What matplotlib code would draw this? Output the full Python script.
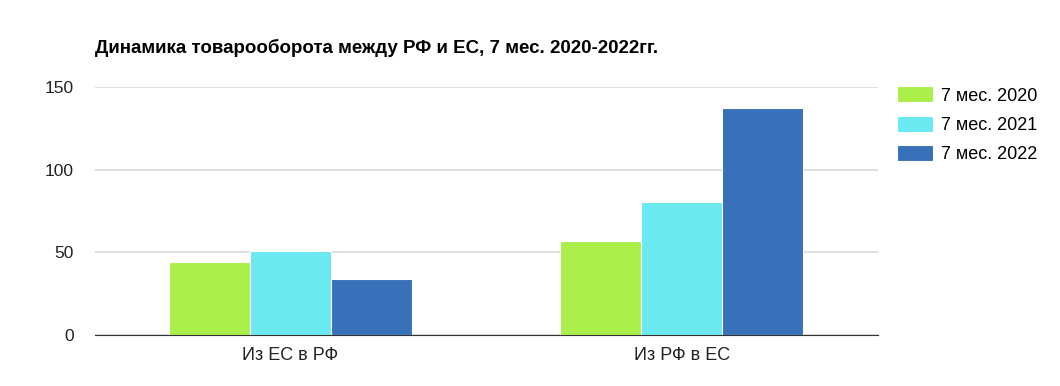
import matplotlib
matplotlib.use("Agg")
import matplotlib.pyplot as plt
import numpy as np

plt.rcParams["font.family"] = ["Liberation Sans", "DejaVu Sans"]

categories = ["Из ЕС в РФ", "Из РФ в ЕС"]
series_names = ["7 мес. 2020", "7 мес. 2021", "7 мес. 2022"]
vals_2020 = [44.1, 56.8]
vals_2021 = [50.8, 80.2]
vals_2022 = [33.7, 137.1]
colors = ["#abef4b", "#6be9f0", "#3870ba"]

fig = plt.figure(figsize=(10.6, 3.86), dpi=100)
ax = fig.add_axes([94.5 / 1060, 51 / 386, 783 / 1060, 248 / 386])

x = np.arange(len(categories))
w = 0.207
for i, (vals, name) in enumerate(zip([vals_2020, vals_2021, vals_2022], series_names)):
    ax.bar(x + (i - 1) * w, vals, w, color=colors[i], label=name,
           edgecolor="white", linewidth=0.8, zorder=3)

ax.set_xlim(-0.5, 1.5)
ax.set_ylim(0, 150)
ax.set_yticks([0, 50, 100, 150])
ax.set_xticks(x)
ax.set_xticklabels(categories)
ax.tick_params(axis="both", length=0, colors="#222222")
ax.tick_params(axis="y", pad=15, labelsize=12.5)
ax.tick_params(axis="x", pad=9, labelsize=13)
ax.grid(axis="y", color="#d9d9d9", linewidth=1.2, zorder=0)
for s in ["top", "right", "left"]:
    ax.spines[s].set_visible(False)
ax.spines["bottom"].set_color("#333333")
ax.spines["bottom"].set_zorder(4)

fig.text(95 / 1060, 1 - 48 / 386, "Динамика товарооборота между РФ и ЕС, 7 мес. 2020-2022гг.",
         fontsize=13.5, fontweight="bold", va="center", ha="left")

fig.legend(loc="upper left", bbox_to_anchor=(881 / 1060, 1 - 70 / 386),
           frameon=False, fontsize=13, handlelength=2.0, handleheight=1.0,
           labelspacing=0.62, handletextpad=0.45)

fig.savefig("out.png", dpi=100)
